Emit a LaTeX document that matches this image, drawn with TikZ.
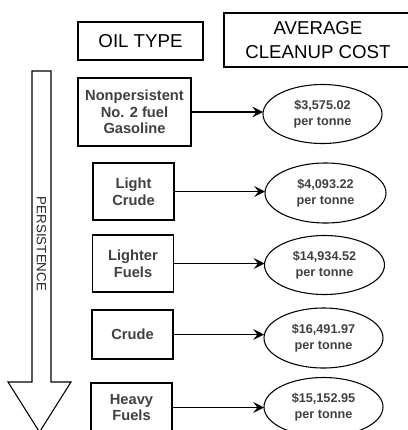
\documentclass[tikz,border=0pt]{standalone}
\usepackage{fontspec}
\setmainfont{Liberation Sans}
\usetikzlibrary{shapes.geometric,arrows.meta}

\tikzset{
  oilbox/.style={draw, line width=0.8pt, inner sep=0pt, outer sep=0pt, align=center,
    minimum width=60.75pt, minimum height=42.75pt, text=black!75,
    font=\fontsize{11}{12.5}\selectfont\bfseries},
  costell/.style={draw, ellipse, line width=0.8pt, inner sep=0pt, outer sep=0pt, align=center,
    minimum width=89.25pt, minimum height=44.25pt, text=black!75,
    font=\fontsize{9.5}{12}\selectfont\bfseries},
  headbox/.style={draw, line width=0.8pt, inner sep=0pt, outer sep=0pt, align=center,
    text=black, font=\fontsize{14}{18}\selectfont},
  costarrow/.style={-{Stealth[length=8pt,width=8pt,inset=3pt]}, line width=1pt}
}

\begin{document}
\begin{tikzpicture}[x=0.75pt, y=-0.75pt]
  \clip (0,0) rectangle (408,430);
  % headings
  \node[headbox, minimum width=93.75pt, minimum height=28.5pt] (oiltype) at (140.5,41) {OIL TYPE};
  \node[headbox, minimum width=141pt, minimum height=40.5pt] (avgcost) at (318,40) {AVERAGE\\CLEANUP COST};
  % persistence arrow
  \draw[line width=0.8pt] (32,71) -- (51,71) -- (51,382) -- (71,382) -- (39.5,432)
    -- (8,382) -- (32,382) -- cycle;
  \node[rotate=-90, text=black!85, font=\fontsize{10}{12}\selectfont] (persist) at (41.5,244) {PERSISTENCE};
  % oil types
  \node[oilbox, minimum width=84.75pt, minimum height=51pt] (nonpers) at (134.5,112) {Nonpersistent\\No. 2 fuel\\Gasoline};
  \node[oilbox] (lightcrude) at (133.5,191.5) {Light\\Crude};
  \node[oilbox] (lighter) at (133,263.5) {Lighter\\Fuels};
  \node[oilbox, minimum height=36.75pt] (crude) at (132.5,334.5) {Crude};
  \node[oilbox, minimum height=36.75pt] (heavy) at (131.5,407.5) {Heavy\\Fuels};
  % costs
  \node[costell] (c1) at (322.5,114) {\$3,575.02\\per tonne};
  \node[costell, minimum width=90.75pt, minimum height=45pt] (c2) at (325.5,193) {\$4,093.22\\per tonne};
  \node[costell, minimum width=90pt] (c3) at (324.5,265) {\$14,934.52\\per tonne};
  \node[costell, minimum height=45pt] (c4) at (323.5,338) {\$16,491.97\\per tonne};
  \node[costell] (c5) at (323.5,407) {\$15,152.95\\per tonne};
  % arrows
  \draw[costarrow] (nonpers.east) -- (nonpers.east -| c1.west);
  \draw[costarrow] (lightcrude.east) -- (lightcrude.east -| c2.west);
  \draw[costarrow] (lighter.east) -- (lighter.east -| c3.west);
  \draw[costarrow] (crude.east) -- (crude.east -| c4.west);
  \draw[costarrow] (heavy.east) -- (heavy.east -| c5.west);
\end{tikzpicture}
\end{document}
